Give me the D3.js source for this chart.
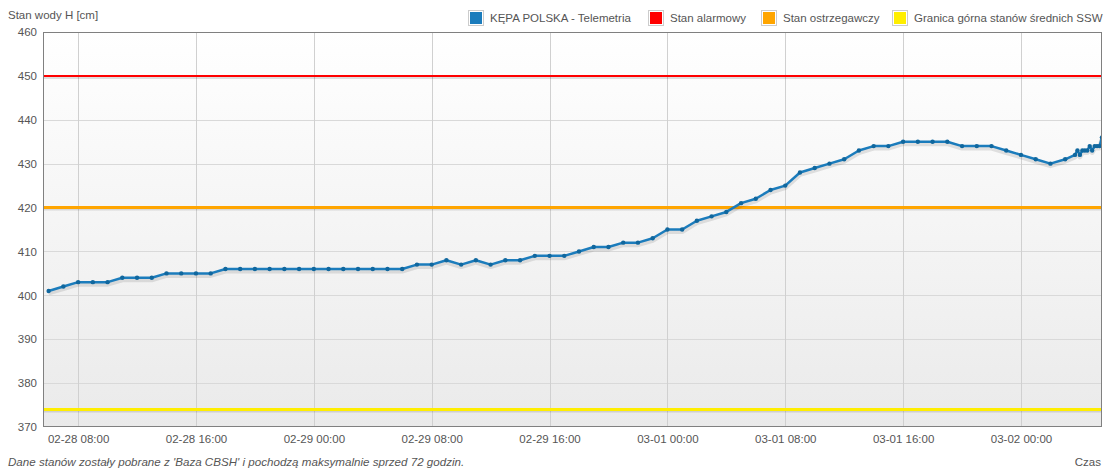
<!DOCTYPE html>
<html><head><meta charset="utf-8">
<script src="https://cdn.jsdelivr.net/npm/d3@7"></script>
<style>
html,body{margin:0;padding:0;background:#fff;}
svg text{font-family:"Liberation Sans",Arial,sans-serif;}
</style></head>
<body>
<svg id="chart" width="1106" height="470"></svg>
<script>
const times = [
"2024-02-28 06:00","2024-02-28 07:00","2024-02-28 08:00","2024-02-28 09:00","2024-02-28 10:00","2024-02-28 11:00",
"2024-02-28 12:00","2024-02-28 13:00","2024-02-28 14:00","2024-02-28 15:00","2024-02-28 16:00","2024-02-28 17:00",
"2024-02-28 18:00","2024-02-28 19:00","2024-02-28 20:00","2024-02-28 21:00","2024-02-28 22:00","2024-02-28 23:00",
"2024-02-29 00:00","2024-02-29 01:00","2024-02-29 02:00","2024-02-29 03:00","2024-02-29 04:00","2024-02-29 05:00",
"2024-02-29 06:00","2024-02-29 07:00","2024-02-29 08:00","2024-02-29 09:00","2024-02-29 10:00","2024-02-29 11:00",
"2024-02-29 12:00","2024-02-29 13:00","2024-02-29 14:00","2024-02-29 15:00","2024-02-29 16:00","2024-02-29 17:00",
"2024-02-29 18:00","2024-02-29 19:00","2024-02-29 20:00","2024-02-29 21:00","2024-02-29 22:00","2024-02-29 23:00",
"2024-03-01 00:00","2024-03-01 01:00","2024-03-01 02:00","2024-03-01 03:00","2024-03-01 04:00","2024-03-01 05:00",
"2024-03-01 06:00","2024-03-01 07:00","2024-03-01 08:00","2024-03-01 09:00","2024-03-01 10:00","2024-03-01 11:00",
"2024-03-01 12:00","2024-03-01 13:00","2024-03-01 14:00","2024-03-01 15:00","2024-03-01 16:00","2024-03-01 17:00",
"2024-03-01 18:00","2024-03-01 19:00","2024-03-01 20:00","2024-03-01 21:00","2024-03-01 22:00","2024-03-01 23:00",
"2024-03-02 00:00","2024-03-02 01:00","2024-03-02 02:00","2024-03-02 03:00",
"2024-03-02 03:40","2024-03-02 03:50","2024-03-02 04:00","2024-03-02 04:10","2024-03-02 04:20","2024-03-02 04:30",
"2024-03-02 04:40","2024-03-02 04:50","2024-03-02 05:00","2024-03-02 05:10","2024-03-02 05:20","2024-03-02 05:30"
];
const levels = [
401,402,403,403,403,404,
404,404,405,405,405,405,
406,406,406,406,406,406,
406,406,406,406,406,406,
406,407,407,408,407,408,
407,408,408,409,409,409,
410,411,411,412,412,413,
415,415,417,418,419,421,
422,424,425,428,429,430,
431,433,434,434,435,435,
435,435,434,434,434,433,
432,431,430,431,
432,433,432,433,433,433,
434,433,434,434,434,436
];
const seriesName = "KĘPA POLSKA - Telemetria";
const thresholdNames = ["Stan alarmowy","Stan ostrzegawczy","Granica górna stanów średnich SSW"];
const thresholdValues = [450, 420, 374];
const thresholdColors = ["#ff0000","#ffa500","#ffee00"];
const seriesColor = "#1b7cbc";
const yTicks = [370,380,390,400,410,420,430,440,450,460];
const xTickLabels = ["2024-02-28 08:00","2024-02-28 16:00","2024-02-29 00:00","2024-02-29 08:00","2024-02-29 16:00","2024-03-01 00:00","2024-03-01 08:00","2024-03-01 16:00","2024-03-02 00:00"];
const domainStart = "2024-02-28 05:37";
const yTitle = "Stan wody H [cm]";
const xTitle = "Czas";
const footer = "Dane stanów zostały pobrane z 'Baza CBSH' i pochodzą maksymalnie sprzed 72 godzin.";

const parse = d3.utcParse("%Y-%m-%d %H:%M");
const fmt = d3.utcFormat("%m-%d %H:%M");
const data = times.map((t,i)=>({t:parse(t), v:levels[i]}));

const L=43, R=1102, T=32, B=427;
const svg = d3.select("#chart");
const x = d3.scaleUtc().domain([parse(domainStart), data[data.length-1].t]).range([L,R]);
const y = d3.scaleLinear().domain([370,460]).range([B,T]);

const defs = svg.append("defs");
const grad = defs.append("linearGradient").attr("id","bg").attr("x1",0).attr("y1",0).attr("x2",0).attr("y2",1);
grad.append("stop").attr("offset","0%").attr("stop-color","#ffffff");
grad.append("stop").attr("offset","100%").attr("stop-color","#eaeaea");
defs.append("clipPath").attr("id","clip").append("rect").attr("x",L).attr("y",T).attr("width",R-L).attr("height",B-T);

svg.append("rect").attr("x",L).attr("y",T).attr("width",R-L).attr("height",B-T).attr("fill","url(#bg)");

// grid
const xt = xTickLabels.map(parse);
svg.append("g").selectAll("line").data(yTicks.slice(1,-1)).join("line")
  .attr("x1",L).attr("x2",R).attr("y1",d=>Math.round(y(d))+0.5).attr("y2",d=>Math.round(y(d))+0.5)
  .attr("stroke","#d9d9d9").attr("stroke-width",1);
svg.append("g").selectAll("line").data(xt).join("line")
  .attr("y1",T).attr("y2",B).attr("x1",d=>Math.round(x(d))+0.5).attr("x2",d=>Math.round(x(d))+0.5)
  .attr("stroke","#d0d0d0").attr("stroke-width",1);

// thresholds
const thr = svg.append("g").attr("clip-path","url(#clip)");
thresholdValues.forEach((v,i)=>{
  thr.append("line").attr("x1",L).attr("x2",R).attr("y1",y(v)+1.5).attr("y2",y(v)+1.5)
    .attr("stroke","rgba(0,0,0,0.12)").attr("stroke-width",3);
  thr.append("line").attr("x1",L).attr("x2",R).attr("y1",y(v)).attr("y2",y(v))
    .attr("stroke",thresholdColors[i]).attr("stroke-width",i===0?2:3);
});

// series
const line = d3.line().x(d=>x(d.t)).y(d=>y(d.v));
const sg = svg.append("g").attr("clip-path","url(#clip)");
sg.append("path").datum(data).attr("d",line).attr("fill","none")
  .attr("stroke","rgba(0,0,0,0.10)").attr("stroke-width",5).attr("transform","translate(0,2)")
  .attr("stroke-linejoin","round");
sg.append("path").datum(data).attr("d",line).attr("fill","none")
  .attr("stroke",seriesColor).attr("stroke-width",2.5).attr("stroke-linejoin","round");
sg.selectAll("circle").data(data).join("circle")
  .attr("cx",d=>x(d.t)).attr("cy",d=>y(d.v)).attr("r",2.2).attr("fill","#10679e");

// border
svg.append("rect").attr("x",L+0.5).attr("y",T+0.5).attr("width",R-L-1).attr("height",B-T-1)
  .attr("fill","none").attr("stroke","#808080").attr("stroke-width",1);

// axes
const yAxis = d3.axisLeft(y).tickValues(yTicks).tickSize(0).tickPadding(6);
const ga = svg.append("g").attr("transform",`translate(${L},0)`).call(yAxis);
ga.select(".domain").remove();
ga.selectAll("text").attr("font-size","11.5px").attr("fill","#555").attr("font-family","Liberation Sans, Arial, sans-serif");

const xAxis = d3.axisBottom(x).tickValues(xt).tickFormat(fmt).tickSize(0).tickPadding(8);
const gx = svg.append("g").attr("transform",`translate(0,${B})`).call(xAxis);
gx.select(".domain").remove();
gx.selectAll("text").attr("font-size","11.5px").attr("fill","#555").attr("font-family","Liberation Sans, Arial, sans-serif");

svg.append("text").attr("x",8).attr("y",19).attr("font-size","11.5px").attr("fill","#555").text(yTitle);
svg.append("text").attr("x",1101).attr("y",466).attr("text-anchor","end").attr("font-size","11.5px").attr("fill","#555").text(xTitle);
svg.append("text").attr("x",8).attr("y",466).attr("font-size","11.6px").attr("font-style","italic").attr("fill","#555").text(footer);

// legend
const legItems = [{n:seriesName,c:seriesColor}].concat(thresholdNames.map((n,i)=>({n:n,c:thresholdColors[i]})));
const legX = [468, 648, 761, 892];
legItems.forEach((d,i)=>{
  const g = svg.append("g").attr("transform",`translate(${legX[i]},10)`);
  g.append("rect").attr("x",0.5).attr("y",0.5).attr("width",15).attr("height",15).attr("fill","#fff").attr("stroke","#ccc");
  g.append("rect").attr("x",2).attr("y",2).attr("width",12).attr("height",12).attr("fill",d.c);
  g.append("text").attr("x",22).attr("y",12).attr("font-size","11.5px").attr("fill","#555").text(d.n);
});
</script>
</body></html>
